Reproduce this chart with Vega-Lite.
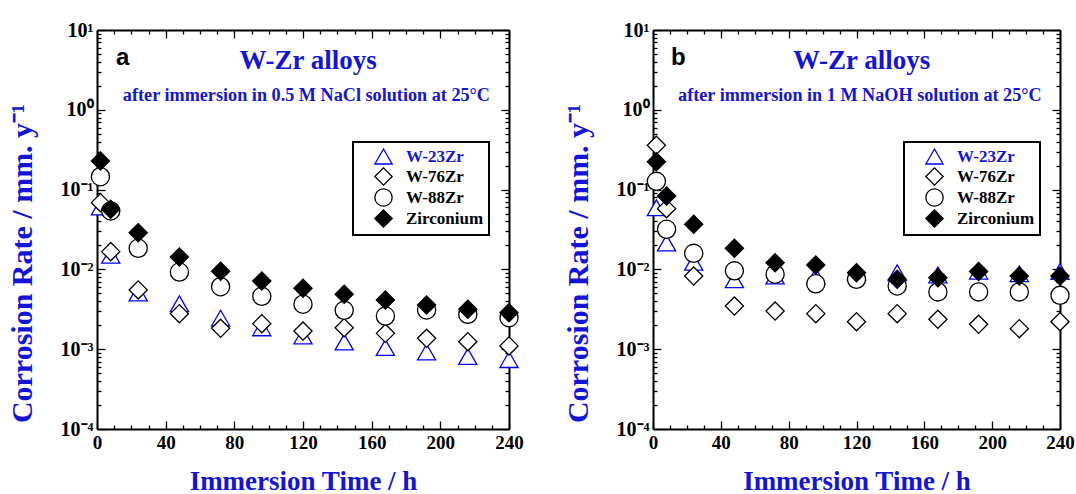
{
  "$schema": "https://vega.github.io/schema/vega-lite/v6.json",
  "padding": {"left": 6, "top": 20, "right": 10, "bottom": 0},
  "background": "white",
  "config": {"view": {"stroke": null}, "font": "Liberation Serif", "legend": {"strokeWidth": 2}},
  "datasets": {
    "a": [
      {"alloy": "W-23Zr", "t": 2, "rate": 0.0605}, {"alloy": "W-23Zr", "t": 8, "rate": 0.015}, {"alloy": "W-23Zr", "t": 24, "rate": 0.00506}, {"alloy": "W-23Zr", "t": 48, "rate": 0.00371}, {"alloy": "W-23Zr", "t": 72, "rate": 0.00245}, {"alloy": "W-23Zr", "t": 96, "rate": 0.00185}, {"alloy": "W-23Zr", "t": 120, "rate": 0.00146}, {"alloy": "W-23Zr", "t": 144, "rate": 0.00123}, {"alloy": "W-23Zr", "t": 168, "rate": 0.00105}, {"alloy": "W-23Zr", "t": 192, "rate": 0.00092}, {"alloy": "W-23Zr", "t": 216, "rate": 0.00081}, {"alloy": "W-23Zr", "t": 240, "rate": 0.00074},
      {"alloy": "W-76Zr", "t": 2, "rate": 0.0686}, {"alloy": "W-76Zr", "t": 8, "rate": 0.0167}, {"alloy": "W-76Zr", "t": 24, "rate": 0.00552}, {"alloy": "W-76Zr", "t": 48, "rate": 0.00279}, {"alloy": "W-76Zr", "t": 72, "rate": 0.00183}, {"alloy": "W-76Zr", "t": 96, "rate": 0.00209}, {"alloy": "W-76Zr", "t": 120, "rate": 0.00169}, {"alloy": "W-76Zr", "t": 144, "rate": 0.00186}, {"alloy": "W-76Zr", "t": 168, "rate": 0.00158}, {"alloy": "W-76Zr", "t": 192, "rate": 0.00137}, {"alloy": "W-76Zr", "t": 216, "rate": 0.00124}, {"alloy": "W-76Zr", "t": 240, "rate": 0.0011},
      {"alloy": "W-88Zr", "t": 2, "rate": 0.145}, {"alloy": "W-88Zr", "t": 8, "rate": 0.054}, {"alloy": "W-88Zr", "t": 24, "rate": 0.0184}, {"alloy": "W-88Zr", "t": 48, "rate": 0.00927}, {"alloy": "W-88Zr", "t": 72, "rate": 0.00607}, {"alloy": "W-88Zr", "t": 96, "rate": 0.0046}, {"alloy": "W-88Zr", "t": 120, "rate": 0.00366}, {"alloy": "W-88Zr", "t": 144, "rate": 0.00307}, {"alloy": "W-88Zr", "t": 168, "rate": 0.0026}, {"alloy": "W-88Zr", "t": 192, "rate": 0.0031}, {"alloy": "W-88Zr", "t": 216, "rate": 0.00273}, {"alloy": "W-88Zr", "t": 240, "rate": 0.00248},
      {"alloy": "Zirconium", "t": 2, "rate": 0.228}, {"alloy": "Zirconium", "t": 8, "rate": 0.0566}, {"alloy": "Zirconium", "t": 24, "rate": 0.0288}, {"alloy": "Zirconium", "t": 48, "rate": 0.0143}, {"alloy": "Zirconium", "t": 72, "rate": 0.0095}, {"alloy": "Zirconium", "t": 96, "rate": 0.00716}, {"alloy": "Zirconium", "t": 120, "rate": 0.0058}, {"alloy": "Zirconium", "t": 144, "rate": 0.00488}, {"alloy": "Zirconium", "t": 168, "rate": 0.00414}, {"alloy": "Zirconium", "t": 192, "rate": 0.00358}, {"alloy": "Zirconium", "t": 216, "rate": 0.00316}, {"alloy": "Zirconium", "t": 240, "rate": 0.00287}
    ],
    "b": [
      {"alloy": "W-23Zr", "t": 2, "rate": 0.0593}, {"alloy": "W-23Zr", "t": 8, "rate": 0.0214}, {"alloy": "W-23Zr", "t": 24, "rate": 0.0123}, {"alloy": "W-23Zr", "t": 48, "rate": 0.00743}, {"alloy": "W-23Zr", "t": 72, "rate": 0.00826}, {"alloy": "W-23Zr", "t": 96, "rate": 0.0082}, {"alloy": "W-23Zr", "t": 120, "rate": 0.0092}, {"alloy": "W-23Zr", "t": 144, "rate": 0.0091}, {"alloy": "W-23Zr", "t": 168, "rate": 0.0085}, {"alloy": "W-23Zr", "t": 192, "rate": 0.0095}, {"alloy": "W-23Zr", "t": 216, "rate": 0.0088}, {"alloy": "W-23Zr", "t": 240, "rate": 0.0094},
      {"alloy": "W-76Zr", "t": 2, "rate": 0.359}, {"alloy": "W-76Zr", "t": 8, "rate": 0.0577}, {"alloy": "W-76Zr", "t": 24, "rate": 0.00826}, {"alloy": "W-76Zr", "t": 48, "rate": 0.00347}, {"alloy": "W-76Zr", "t": 72, "rate": 0.00301}, {"alloy": "W-76Zr", "t": 96, "rate": 0.00279}, {"alloy": "W-76Zr", "t": 120, "rate": 0.00221}, {"alloy": "W-76Zr", "t": 144, "rate": 0.00279}, {"alloy": "W-76Zr", "t": 168, "rate": 0.00237}, {"alloy": "W-76Zr", "t": 192, "rate": 0.00205}, {"alloy": "W-76Zr", "t": 216, "rate": 0.00181}, {"alloy": "W-76Zr", "t": 240, "rate": 0.00221},
      {"alloy": "W-88Zr", "t": 2, "rate": 0.127}, {"alloy": "W-88Zr", "t": 8, "rate": 0.0318}, {"alloy": "W-88Zr", "t": 24, "rate": 0.0159}, {"alloy": "W-88Zr", "t": 48, "rate": 0.0096}, {"alloy": "W-88Zr", "t": 72, "rate": 0.0087}, {"alloy": "W-88Zr", "t": 96, "rate": 0.0066}, {"alloy": "W-88Zr", "t": 120, "rate": 0.0075}, {"alloy": "W-88Zr", "t": 144, "rate": 0.0062}, {"alloy": "W-88Zr", "t": 168, "rate": 0.00522}, {"alloy": "W-88Zr", "t": 192, "rate": 0.00522}, {"alloy": "W-88Zr", "t": 216, "rate": 0.00522}, {"alloy": "W-88Zr", "t": 240, "rate": 0.00473},
      {"alloy": "Zirconium", "t": 2, "rate": 0.224}, {"alloy": "Zirconium", "t": 8, "rate": 0.0832}, {"alloy": "Zirconium", "t": 24, "rate": 0.0367}, {"alloy": "Zirconium", "t": 48, "rate": 0.0184}, {"alloy": "Zirconium", "t": 72, "rate": 0.0121}, {"alloy": "Zirconium", "t": 96, "rate": 0.01135}, {"alloy": "Zirconium", "t": 120, "rate": 0.0091}, {"alloy": "Zirconium", "t": 144, "rate": 0.0075}, {"alloy": "Zirconium", "t": 168, "rate": 0.00787}, {"alloy": "Zirconium", "t": 192, "rate": 0.0094}, {"alloy": "Zirconium", "t": 216, "rate": 0.00826}, {"alloy": "Zirconium", "t": 240, "rate": 0.00826}
    ]
  },
  "bounds": "flush",
  "spacing": 144,
  "hconcat": [
    {
      "width": 412,
      "height": 399,
      "layer": [
        {
          "data": {"name": "a"},
          "mark": {"type": "point", "size": 330, "strokeWidth": 1.3, "opacity": 1},
          "encoding": {
            "x": {"field": "t", "type": "quantitative", "scale": {"domain": [0, 240], "nice": false, "zero": false},
              "axis": {"orient": "bottom", "values": [0,10,20,30,40,50,60,70,80,90,100,110,120,130,140,150,160,170,180,190,200,210,220,230,240], "labelExpr": "datum.value % 40 == 0 ? datum.label : ''", "tickSize": {"condition": {"test": "datum.value % 40 == 0", "value": -8}, "value": -4}, "tickColor": "black", "tickWidth": 1.3, "domainColor": "black", "domainWidth": 2, "grid": false, "labelFont": "Liberation Serif", "labelFontWeight": "bold", "labelFontSize": 19, "labelColor": "black", "labelPadding": 12, "labelFlush": false, "labelOverlap": false, "labelBound": false, "title": "Immersion Time / h", "titleFont": "Liberation Serif", "titleFontWeight": "bold", "titleFontSize": 27, "titleColor": "#1414d8", "titleY": 52, "titleBaseline": "middle"}},
            "y": {"field": "rate", "type": "quantitative", "scale": {"type": "log", "domain": [0.0001, 10], "nice": false},
              "axis": {"orient": "left", "values": [0.0001,0.0002,0.0003,0.0004,0.0005,0.0006,0.0007,0.0008,0.0009,0.001,0.002,0.003,0.004,0.005,0.006,0.007,0.008,0.009,0.01,0.02,0.03,0.04,0.05,0.06,0.07,0.08,0.09,0.1,0.2,0.3,0.4,0.5,0.6,0.7,0.8,0.9,1,2,3,4,5,6,7,8,9,10], "labelExpr": "datum.value == 10 ? '10¹' : datum.value == 1 ? '10⁰' : datum.value == 0.1 ? '10⁻¹' : datum.value == 0.01 ? '10⁻²' : datum.value == 0.001 ? '10⁻³' : datum.value == 0.0001 ? '10⁻⁴' : ''", "tickSize": {"condition": {"test": "abs(log(datum.value)/LN10 - round(log(datum.value)/LN10)) < 0.001", "value": -8}, "value": -4}, "tickColor": "black", "tickWidth": 1.3, "domainColor": "black", "domainWidth": 2, "grid": false, "labelFont": "Liberation Serif", "labelFontWeight": "bold", "labelFontSize": 20, "labelColor": "black", "labelPadding": 12, "labelFlush": false, "labelOverlap": false, "labelBound": false, "title": "Corrosion Rate / mm. y⁻¹", "titleFont": "Liberation Serif", "titleFontWeight": "bold", "titleFontSize": 30, "titleColor": "#1414d8", "titleX": -75, "titleY": 233, "titleAngle": -90, "titleAlign": "center", "titleBaseline": "middle"}},
            "shape": {"field": "alloy", "type": "nominal", "scale": {"domain": ["W-23Zr", "W-76Zr", "W-88Zr", "Zirconium"], "range": ["triangle-up", "diamond", "circle", "diamond"]},
              "legend": {"orient": "none", "legendX": 256, "legendY": 112, "title": null, "strokeColor": "black", "fillColor": "white", "padding": 5, "symbolOffset": 16, "labelOffset": 13, "rowPadding": -2.5, "symbolSize": 300, "symbolStrokeWidth": 1.3, "labelFont": "Liberation Serif", "labelFontWeight": "bold", "labelFontSize": 17, "labelColor": {"expr": "datum.value === 'W-23Zr' ? '#1414d8' : 'black'"}}},
            "color": {"field": "alloy", "type": "nominal", "scale": {"domain": ["W-23Zr", "W-76Zr", "W-88Zr", "Zirconium"], "range": ["#0000ff", "black", "black", "black"]},
              "legend": {"orient": "none", "legendX": 256, "legendY": 112, "title": null, "strokeColor": "black", "fillColor": "white", "padding": 5, "symbolOffset": 16, "labelOffset": 13, "rowPadding": -2.5, "symbolSize": 300, "symbolStrokeWidth": 1.3, "labelFont": "Liberation Serif", "labelFontWeight": "bold", "labelFontSize": 17, "labelColor": {"expr": "datum.value === 'W-23Zr' ? '#1414d8' : 'black'"}}},
            "fill": {"field": "alloy", "type": "nominal", "scale": {"domain": ["W-23Zr", "W-76Zr", "W-88Zr", "Zirconium"], "range": ["white", "white", "white", "black"]},
              "legend": {"orient": "none", "legendX": 256, "legendY": 112, "title": null, "strokeColor": "black", "fillColor": "white", "padding": 5, "symbolOffset": 16, "labelOffset": 13, "rowPadding": -2.5, "symbolSize": 300, "symbolStrokeWidth": 1.3, "labelFont": "Liberation Serif", "labelFontWeight": "bold", "labelFontSize": 17, "labelColor": {"expr": "datum.value === 'W-23Zr' ? '#1414d8' : 'black'"}}}
          }
        },
        {
          "data": {"name": "a"},
          "mark": {"type": "point", "opacity": 0},
          "encoding": {
            "x": {"field": "t", "type": "quantitative", "scale": {"domain": [0, 240], "nice": false, "zero": false},
              "axis": {"orient": "top", "values": [0,10,20,30,40,50,60,70,80,90,100,110,120,130,140,150,160,170,180,190,200,210,220,230,240], "labels": false, "tickSize": {"condition": {"test": "datum.value % 40 == 0", "value": -8}, "value": -4}, "tickColor": "black", "tickWidth": 1.3, "domainColor": "black", "domainWidth": 2, "grid": false, "title": null}},
            "y": {"field": "rate", "type": "quantitative", "scale": {"type": "log", "domain": [0.0001, 10], "nice": false},
              "axis": {"orient": "right", "values": [0.0001,0.0002,0.0003,0.0004,0.0005,0.0006,0.0007,0.0008,0.0009,0.001,0.002,0.003,0.004,0.005,0.006,0.007,0.008,0.009,0.01,0.02,0.03,0.04,0.05,0.06,0.07,0.08,0.09,0.1,0.2,0.3,0.4,0.5,0.6,0.7,0.8,0.9,1,2,3,4,5,6,7,8,9,10], "labels": false, "tickSize": {"condition": {"test": "abs(log(datum.value)/LN10 - round(log(datum.value)/LN10)) < 0.001", "value": -8}, "value": -4}, "tickColor": "black", "tickWidth": 1.3, "domainColor": "black", "domainWidth": 2, "grid": false, "title": null}}
          }
        },
        {
          "data": {"values": [{}]},
          "mark": {"type": "text", "font": "Liberation Sans", "fontWeight": "bold", "fontSize": 24, "color": "black", "align": "center", "baseline": "alphabetic"},
          "encoding": {
            "x": {"datum": 15, "type": "quantitative", "scale": {"domain": [0, 240], "nice": false, "zero": false}, "axis": null},
            "y": {"datum": 3.64, "type": "quantitative", "scale": {"type": "log", "domain": [0.0001, 10], "nice": false}, "axis": null},
            "text": {"value": "a"}
          }
        },
        {
          "data": {"values": [{}]},
          "mark": {"type": "text", "font": "Liberation Serif", "fontWeight": "bold", "fontSize": 27, "color": "#1414d8", "align": "center", "baseline": "alphabetic"},
          "encoding": {
            "x": {"datum": 123, "type": "quantitative", "scale": {"domain": [0, 240], "nice": false, "zero": false}, "axis": null},
            "y": {"datum": 3.24, "type": "quantitative", "scale": {"type": "log", "domain": [0.0001, 10], "nice": false}, "axis": null},
            "text": {"value": "W-Zr alloys"}
          }
        },
        {
          "data": {"values": [{}]},
          "mark": {"type": "text", "font": "Liberation Serif", "fontWeight": "bold", "fontSize": 18.2, "color": "#1414d8", "align": "center", "baseline": "alphabetic"},
          "encoding": {
            "x": {"datum": 122, "type": "quantitative", "scale": {"domain": [0, 240], "nice": false, "zero": false}, "axis": null},
            "y": {"datum": 1.29, "type": "quantitative", "scale": {"type": "log", "domain": [0.0001, 10], "nice": false}, "axis": null},
            "text": {"value": "after immersion in 0.5 M NaCl solution at 25°C"}
          }
        }
      ],
      "resolve": {"axis": {"x": "independent", "y": "independent"}}
    },
    {
      "width": 407,
      "height": 399,
      "layer": [
        {
          "data": {"name": "b"},
          "mark": {"type": "point", "size": 330, "strokeWidth": 1.3, "opacity": 1},
          "encoding": {
            "x": {"field": "t", "type": "quantitative", "scale": {"domain": [0, 240], "nice": false, "zero": false},
              "axis": {"orient": "bottom", "values": [0,10,20,30,40,50,60,70,80,90,100,110,120,130,140,150,160,170,180,190,200,210,220,230,240], "labelExpr": "datum.value % 40 == 0 ? datum.label : ''", "tickSize": {"condition": {"test": "datum.value % 40 == 0", "value": -8}, "value": -4}, "tickColor": "black", "tickWidth": 1.3, "domainColor": "black", "domainWidth": 2, "grid": false, "labelFont": "Liberation Serif", "labelFontWeight": "bold", "labelFontSize": 19, "labelColor": "black", "labelPadding": 12, "labelFlush": false, "labelOverlap": false, "labelBound": false, "title": "Immersion Time / h", "titleFont": "Liberation Serif", "titleFontWeight": "bold", "titleFontSize": 27, "titleColor": "#1414d8", "titleY": 52, "titleBaseline": "middle"}},
            "y": {"field": "rate", "type": "quantitative", "scale": {"type": "log", "domain": [0.0001, 10], "nice": false},
              "axis": {"orient": "left", "values": [0.0001,0.0002,0.0003,0.0004,0.0005,0.0006,0.0007,0.0008,0.0009,0.001,0.002,0.003,0.004,0.005,0.006,0.007,0.008,0.009,0.01,0.02,0.03,0.04,0.05,0.06,0.07,0.08,0.09,0.1,0.2,0.3,0.4,0.5,0.6,0.7,0.8,0.9,1,2,3,4,5,6,7,8,9,10], "labelExpr": "datum.value == 10 ? '10¹' : datum.value == 1 ? '10⁰' : datum.value == 0.1 ? '10⁻¹' : datum.value == 0.01 ? '10⁻²' : datum.value == 0.001 ? '10⁻³' : datum.value == 0.0001 ? '10⁻⁴' : ''", "tickSize": {"condition": {"test": "abs(log(datum.value)/LN10 - round(log(datum.value)/LN10)) < 0.001", "value": -8}, "value": -4}, "tickColor": "black", "tickWidth": 1.3, "domainColor": "black", "domainWidth": 2, "grid": false, "labelFont": "Liberation Serif", "labelFontWeight": "bold", "labelFontSize": 20, "labelColor": "black", "labelPadding": 12, "labelFlush": false, "labelOverlap": false, "labelBound": false, "title": "Corrosion Rate / mm. y⁻¹", "titleFont": "Liberation Serif", "titleFontWeight": "bold", "titleFontSize": 30, "titleColor": "#1414d8", "titleX": -75, "titleY": 233, "titleAngle": -90, "titleAlign": "center", "titleBaseline": "middle"}},
            "shape": {"field": "alloy", "type": "nominal", "scale": {"domain": ["W-23Zr", "W-76Zr", "W-88Zr", "Zirconium"], "range": ["triangle-up", "diamond", "circle", "diamond"]},
              "legend": {"orient": "none", "legendX": 251, "legendY": 112, "title": null, "strokeColor": "black", "fillColor": "white", "padding": 5, "symbolOffset": 16, "labelOffset": 13, "rowPadding": -2.5, "symbolSize": 300, "symbolStrokeWidth": 1.3, "labelFont": "Liberation Serif", "labelFontWeight": "bold", "labelFontSize": 17, "labelColor": {"expr": "datum.value === 'W-23Zr' ? '#1414d8' : 'black'"}}},
            "color": {"field": "alloy", "type": "nominal", "scale": {"domain": ["W-23Zr", "W-76Zr", "W-88Zr", "Zirconium"], "range": ["#0000ff", "black", "black", "black"]},
              "legend": {"orient": "none", "legendX": 251, "legendY": 112, "title": null, "strokeColor": "black", "fillColor": "white", "padding": 5, "symbolOffset": 16, "labelOffset": 13, "rowPadding": -2.5, "symbolSize": 300, "symbolStrokeWidth": 1.3, "labelFont": "Liberation Serif", "labelFontWeight": "bold", "labelFontSize": 17, "labelColor": {"expr": "datum.value === 'W-23Zr' ? '#1414d8' : 'black'"}}},
            "fill": {"field": "alloy", "type": "nominal", "scale": {"domain": ["W-23Zr", "W-76Zr", "W-88Zr", "Zirconium"], "range": ["white", "white", "white", "black"]},
              "legend": {"orient": "none", "legendX": 251, "legendY": 112, "title": null, "strokeColor": "black", "fillColor": "white", "padding": 5, "symbolOffset": 16, "labelOffset": 13, "rowPadding": -2.5, "symbolSize": 300, "symbolStrokeWidth": 1.3, "labelFont": "Liberation Serif", "labelFontWeight": "bold", "labelFontSize": 17, "labelColor": {"expr": "datum.value === 'W-23Zr' ? '#1414d8' : 'black'"}}}
          }
        },
        {
          "data": {"name": "b"},
          "mark": {"type": "point", "opacity": 0},
          "encoding": {
            "x": {"field": "t", "type": "quantitative", "scale": {"domain": [0, 240], "nice": false, "zero": false},
              "axis": {"orient": "top", "values": [0,10,20,30,40,50,60,70,80,90,100,110,120,130,140,150,160,170,180,190,200,210,220,230,240], "labels": false, "tickSize": {"condition": {"test": "datum.value % 40 == 0", "value": -8}, "value": -4}, "tickColor": "black", "tickWidth": 1.3, "domainColor": "black", "domainWidth": 2, "grid": false, "title": null}},
            "y": {"field": "rate", "type": "quantitative", "scale": {"type": "log", "domain": [0.0001, 10], "nice": false},
              "axis": {"orient": "right", "values": [0.0001,0.0002,0.0003,0.0004,0.0005,0.0006,0.0007,0.0008,0.0009,0.001,0.002,0.003,0.004,0.005,0.006,0.007,0.008,0.009,0.01,0.02,0.03,0.04,0.05,0.06,0.07,0.08,0.09,0.1,0.2,0.3,0.4,0.5,0.6,0.7,0.8,0.9,1,2,3,4,5,6,7,8,9,10], "labels": false, "tickSize": {"condition": {"test": "abs(log(datum.value)/LN10 - round(log(datum.value)/LN10)) < 0.001", "value": -8}, "value": -4}, "tickColor": "black", "tickWidth": 1.3, "domainColor": "black", "domainWidth": 2, "grid": false, "title": null}}
          }
        },
        {
          "data": {"values": [{}]},
          "mark": {"type": "text", "font": "Liberation Sans", "fontWeight": "bold", "fontSize": 24, "color": "black", "align": "center", "baseline": "alphabetic"},
          "encoding": {
            "x": {"datum": 15, "type": "quantitative", "scale": {"domain": [0, 240], "nice": false, "zero": false}, "axis": null},
            "y": {"datum": 3.64, "type": "quantitative", "scale": {"type": "log", "domain": [0.0001, 10], "nice": false}, "axis": null},
            "text": {"value": "b"}
          }
        },
        {
          "data": {"values": [{}]},
          "mark": {"type": "text", "font": "Liberation Serif", "fontWeight": "bold", "fontSize": 27, "color": "#1414d8", "align": "center", "baseline": "alphabetic"},
          "encoding": {
            "x": {"datum": 123, "type": "quantitative", "scale": {"domain": [0, 240], "nice": false, "zero": false}, "axis": null},
            "y": {"datum": 3.24, "type": "quantitative", "scale": {"type": "log", "domain": [0.0001, 10], "nice": false}, "axis": null},
            "text": {"value": "W-Zr alloys"}
          }
        },
        {
          "data": {"values": [{}]},
          "mark": {"type": "text", "font": "Liberation Serif", "fontWeight": "bold", "fontSize": 18.2, "color": "#1414d8", "align": "center", "baseline": "alphabetic"},
          "encoding": {
            "x": {"datum": 122, "type": "quantitative", "scale": {"domain": [0, 240], "nice": false, "zero": false}, "axis": null},
            "y": {"datum": 1.29, "type": "quantitative", "scale": {"type": "log", "domain": [0.0001, 10], "nice": false}, "axis": null},
            "text": {"value": "after immersion in 1 M NaOH solution at 25°C"}
          }
        }
      ],
      "resolve": {"axis": {"x": "independent", "y": "independent"}}
    }
  ],
  "resolve": {
    "scale": {"x": "independent", "y": "independent", "color": "independent", "shape": "independent", "fill": "independent"},
    "legend": {"color": "independent", "shape": "independent", "fill": "independent"}
  }
}
